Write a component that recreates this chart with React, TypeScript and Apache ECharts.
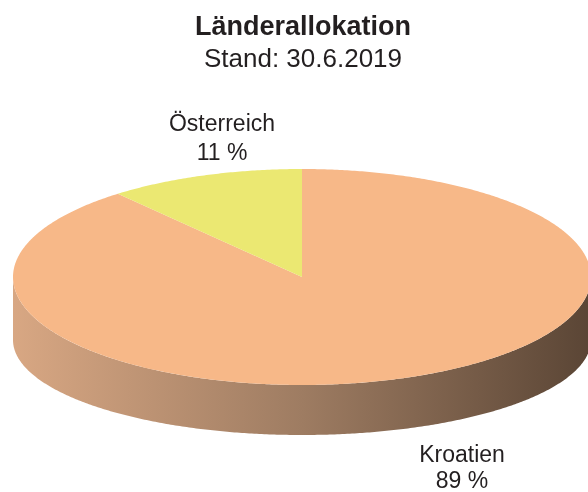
import React, { useEffect, useRef } from "react";
import * as echarts from "echarts";

const categories = ["Kroatien", "Österreich"];
const values = [89, 11];
const titleText = "Länderallokation";
const subtitleText = "Stand: 30.6.2019";

const topColors = ["#F7B888", "#EBE872"];
const wallStops = [
  { offset: 0, color: "#D8A783" },
  { offset: 0.5, color: "#9E7C62" },
  { offset: 1, color: "#5A4535" },
];

export default function App() {
  const ref = useRef<HTMLDivElement>(null);
  useEffect(() => {
    if (!ref.current) return;
    const chart = echarts.init(ref.current, null, { renderer: "svg" });
    const total = values.reduce((a, b) => a + b, 0);
    const cx = 302, rx = 289;
    const cyTop = 277, ryTop = 108;
    const cyBot = 340, ryBot = 95;
    const labelPos = [
      [462, 454, 26],
      [222, 123, 29],
    ];
    const family = "'Liberation Sans', Arial, sans-serif";
    const font = "23px " + family;

    const pt = (t: number, cy: number, ry: number) => [cx + rx * Math.cos(t), cy + ry * Math.sin(t)];
    const arcPts = (s: number, e: number, cy: number, ry: number) => {
      const n = Math.max(2, Math.ceil(Math.abs(e - s) / (Math.PI / 360)));
      const out: number[][] = [];
      for (let i = 0; i <= n; i++) out.push(pt(s + ((e - s) * i) / n, cy, ry));
      return out;
    };

    const renderItem = (params: any, api: any) => {
      const idx = params.dataIndex;
      let before = 0;
      for (let i = 0; i < idx; i++) before += values[i];
      const a0 = -Math.PI / 2 + (before / total) * 2 * Math.PI;
      const a1 = a0 + (values[idx] / total) * 2 * Math.PI;
      const children: any[] = [];
      for (const k of [-1, 0, 1]) {
        const lo = k * 2 * Math.PI, hi = lo + Math.PI;
        const s = Math.max(a0, lo), e = Math.min(a1, hi);
        if (e > s) {
          const pts = arcPts(s, e, cyTop, ryTop).concat(arcPts(e, s, cyBot, ryBot));
          children.push({
            type: "polygon",
            shape: { points: pts },
            style: { fill: new echarts.graphic.LinearGradient(0, 0, 1, 0, wallStops) },
          });
        }
      }
      const topPts = [[cx, cyTop]].concat(arcPts(a0, a1, cyTop, ryTop));
      children.push({
        type: "polygon",
        shape: { points: topPts },
        style: { fill: topColors[idx] },
      });
      const [lx, ly, gap] = labelPos[idx];
      children.push({
        type: "text",
        style: { text: categories[idx], x: lx, y: ly, align: "center", verticalAlign: "middle", font, fill: "#231F20" },
      });
      children.push({
        type: "text",
        style: { text: `${values[idx]} %`, x: lx, y: ly + gap, align: "center", verticalAlign: "middle", font, fill: "#231F20" },
      });
      return { type: "group", children };
    };

    chart.setOption({
      animation: false,
      graphic: [
        {
          type: "text",
          x: 303,
          y: 26,
          style: { text: titleText, align: "center", verticalAlign: "middle", font: "bold 27px " + family, fill: "#231F20" },
        },
        {
          type: "text",
          x: 303,
          y: 58,
          style: { text: subtitleText, align: "center", verticalAlign: "middle", font: "26px " + family, fill: "#231F20" },
        },
      ],
      series: [
        {
          type: "custom",
          coordinateSystem: "none",
          renderItem,
          data: values.map((v, i) => ({ name: categories[i], value: v })),
        },
      ],
    });
    return () => chart.dispose();
  }, []);
  return <div ref={ref} style={{ position: "fixed", left: 0, top: 0, width: 588, height: 492 }} />;
}
